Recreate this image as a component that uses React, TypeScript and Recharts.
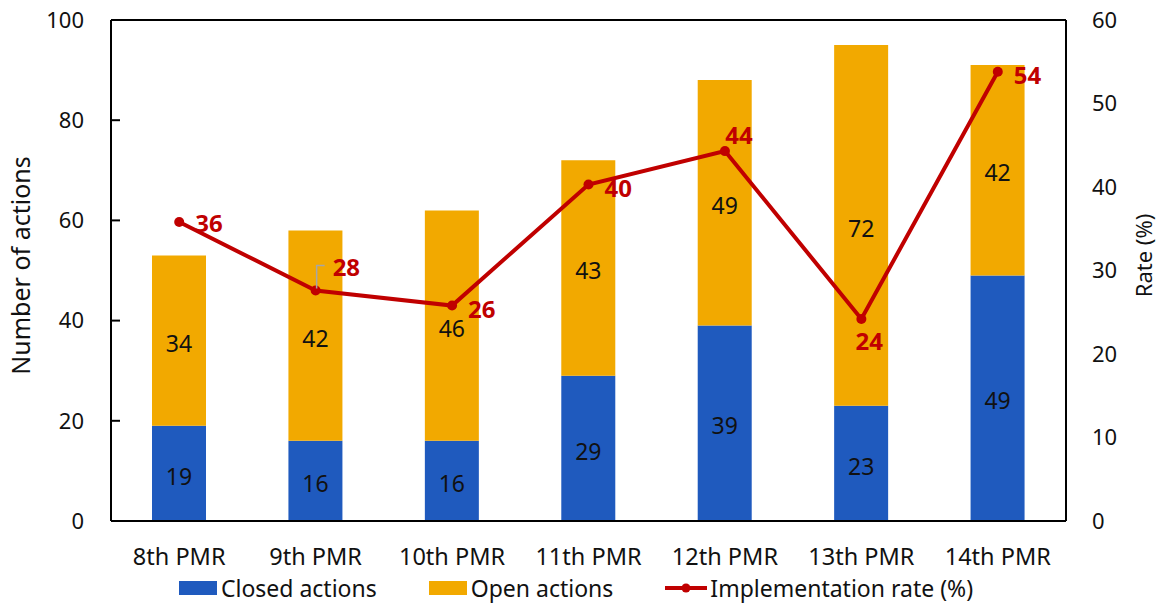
import {
  ComposedChart, Bar, Line, XAxis, YAxis, LabelList, ReferenceLine, Legend,
} from "recharts";

// values
const meetings = ["8th PMR", "9th PMR", "10th PMR", "11th PMR", "12th PMR", "13th PMR", "14th PMR"];
const closedActions = [19, 16, 16, 29, 39, 23, 49];
const openActions = [34, 42, 46, 43, 49, 72, 42];
const implementationRate = [35.8, 27.6, 25.8, 40.3, 44.3, 24.2, 53.8];
const leftTicks = [0, 20, 40, 60, 80, 100];
const rightTicks = [0, 10, 20, 30, 40, 50, 60];

const rows = meetings.map((m, i) => ({
  name: m,
  closed: closedActions[i],
  open: openActions[i],
  rate: implementationRate[i],
}));

const BLUE = "#1F5ABE";
const ORANGE = "#F2A900";
const RED = "#C00000";
const FONT = "'Noto Sans', 'Open Sans', sans-serif";

const yTickStyle = { fontSize: 22, fill: "#111", fontFamily: FONT };
const xTickStyle = { fontSize: 23.5, fill: "#111", fontFamily: FONT };

// where each rate label sits relative to its point
const ratePlacement = ["right", "leader", "right", "right", "above", "below", "right"];

const RateLabel = (props: any) => {
  const { x, y, value, index } = props;
  const txt = Math.round(value);
  const common = { fill: RED, fontSize: 24, fontWeight: 700, fontFamily: FONT, dominantBaseline: "central" as const };
  const p = ratePlacement[index];
  if (p === "leader") return (
    <g>
      <polyline points={`${x + 1},${y - 2} ${x + 1},${y - 25} ${x + 9},${y - 25}`} fill="none" stroke="#a6a6a6" strokeWidth={1.5} />
      <text x={x + 17} y={y - 24} {...common}>{txt}</text>
    </g>
  );
  if (p === "above") return <text x={x + 14} y={y - 17} textAnchor="middle" {...common}>{txt}</text>;
  if (p === "below") return <text x={x + 8} y={y + 22} textAnchor="middle" {...common}>{txt}</text>;
  return <text x={x + 16} y={index === 0 ? y : y + 3} {...common}>{txt}</text>;
};

const LegendBox = () => (
  <div style={{ display: "flex", justifyContent: "center", alignItems: "center", gap: 52, height: 24, marginLeft: -11, fontFamily: FONT, fontSize: 23, color: "#111" }}>
    <div style={{ display: "flex", alignItems: "center" }}>
      <span style={{ display: "inline-block", width: 38, height: 14, background: BLUE, marginRight: 4 }} />
      Closed actions
    </div>
    <div style={{ display: "flex", alignItems: "center" }}>
      <span style={{ display: "inline-block", width: 38, height: 14, background: ORANGE, marginRight: 4 }} />
      Open actions
    </div>
    <div style={{ display: "flex", alignItems: "center" }}>
      <svg width={42} height={14} style={{ marginRight: 3 }}>
        <line x1={0} y1={7} x2={42} y2={7} stroke={RED} strokeWidth={4} />
        <circle cx={21} cy={7} r={4.5} fill={RED} />
      </svg>
      Implementation rate (%)
    </div>
  </div>
);

export default function App() {
  return (
    <div style={{ position: "absolute", left: 0, top: 0, width: 1163, height: 604, background: "#fff" }}>
      <ComposedChart width={1163} height={604} data={rows} margin={{ top: 20, right: 0, left: 0, bottom: 4 }} barSize={54}>
        <XAxis
          dataKey="name"
          tick={xTickStyle}
          tickLine={false}
          tickSize={0}
          tickMargin={27}
          height={55}
          interval={0}
          axisLine={{ stroke: "#000", strokeWidth: 2 }}
        />
        <YAxis
          yAxisId="left"
          domain={[0, 100]}
          ticks={leftTicks}
          width={111}
          tick={yTickStyle}
          tickSize={-9}
          tickMargin={36}
          tickLine={{ stroke: "#000", strokeWidth: 2 }}
          axisLine={{ stroke: "#000", strokeWidth: 2 }}
          label={{ value: "Number of actions", angle: -90, position: "center", dx: -34, dy: -5, style: { fontSize: 25, fill: "#111", fontFamily: FONT } }}
        />
        <YAxis
          yAxisId="right"
          orientation="right"
          domain={[0, 60]}
          ticks={rightTicks}
          width={97}
          tick={yTickStyle}
          tickSize={0}
          tickMargin={26}
          tickLine={false}
          axisLine={{ stroke: "#000", strokeWidth: 2 }}
          label={{ value: "Rate (%)", angle: -90, position: "center", dx: 30, dy: -15, style: { fontSize: 22, fill: "#111", fontFamily: FONT } }}
        />
        <ReferenceLine yAxisId="left" y={100} stroke="#000" strokeWidth={2} />
        <Legend verticalAlign="bottom" content={() => <LegendBox />} />
        <Bar yAxisId="left" dataKey="closed" stackId="a" fill={BLUE} isAnimationActive={false}>
          <LabelList dataKey="closed" position="center" dy={3} style={{ fontSize: 23, fill: "#111", fontFamily: FONT }} />
        </Bar>
        <Bar yAxisId="left" dataKey="open" stackId="a" fill={ORANGE} isAnimationActive={false}>
          <LabelList dataKey="open" position="center" dy={3} style={{ fontSize: 23, fill: "#111", fontFamily: FONT }} />
        </Bar>
        <Line
          yAxisId="right"
          dataKey="rate"
          stroke={RED}
          strokeWidth={4}
          dot={{ r: 5, fill: RED, stroke: RED, strokeWidth: 0 }}
          isAnimationActive={false}
        >
          <LabelList dataKey="rate" content={RateLabel} />
        </Line>
      </ComposedChart>
    </div>
  );
}
